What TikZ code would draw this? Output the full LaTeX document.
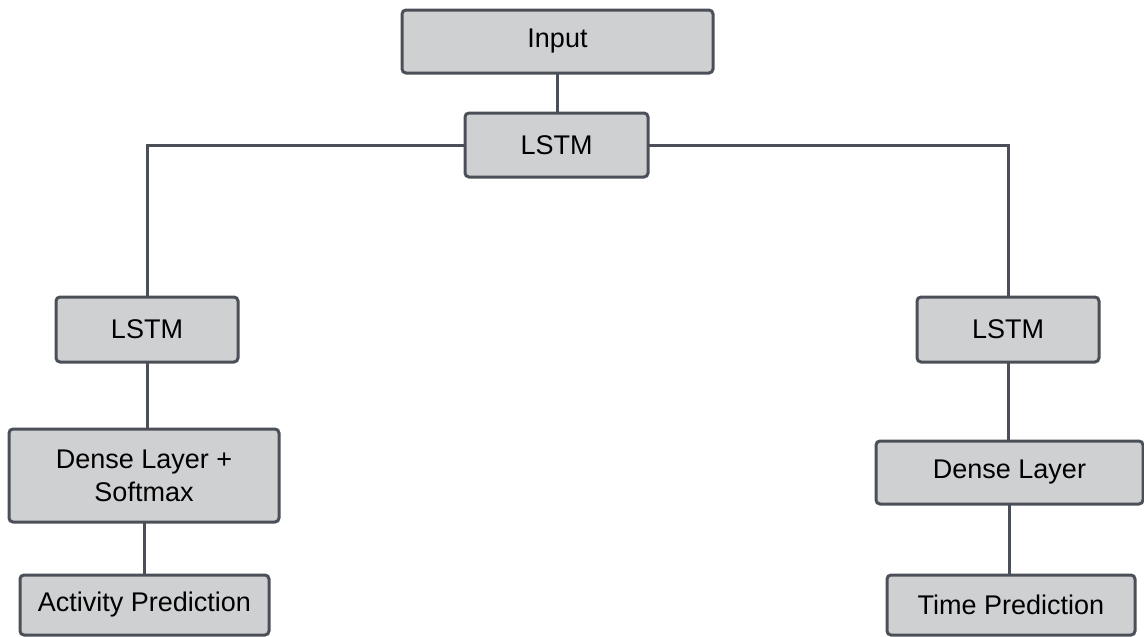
\documentclass[tikz,border=0pt]{standalone}
\usepackage{fontspec}
\setmainfont{Liberation Sans}
\definecolor{boxfill}{HTML}{CFD0D2}
\definecolor{boxline}{HTML}{4B5058}
\begin{document}
\begin{tikzpicture}[x=1pt,y=-1pt,
  layer/.style={draw=boxline, fill=boxfill, line width=3pt, rounded corners=4pt,
    inner sep=0pt, outer sep=0pt, align=center, text=black,
    font=\fontsize{27}{33}\selectfont},
  link/.style={draw=boxline, line width=3pt}]
\useasboundingbox (0,0) rectangle (1144,637);

% nodes
\node[layer, minimum width=311pt, minimum height=63pt] (input) at (557.5,41.5) {Input};
\node[layer, minimum width=183pt, minimum height=64pt] (lstm) at (556.5,145) {LSTM};
\node[layer, minimum width=182pt, minimum height=65pt] (lstmL) at (147,329.5) {LSTM};
\node[layer, minimum width=270pt, minimum height=93pt] (denseL) at (144,475.5) {Dense Layer +\\Softmax};
\node[layer, minimum width=249pt, minimum height=60pt] (act) at (144.5,605) {Activity Prediction};
\node[layer, minimum width=182pt, minimum height=65pt] (lstmR) at (1008,329.5) {LSTM};
\node[layer, minimum width=267pt, minimum height=63pt] (denseR) at (1009.5,472.5) {Dense Layer};
\node[layer, minimum width=248pt, minimum height=60pt] (time) at (1011,605) {Time Prediction};

% connectors
\draw[link] (input.south) -- (input.south |- lstm.north);
\draw[link] (lstm.west) -| (lstmL.north);
\draw[link] (lstm.east) -| (lstmR.north);
\draw[link] (lstmL.south) -- (lstmL.south |- denseL.north);
\draw[link] (denseL.south) -- (denseL.south |- act.north);
\draw[link] (lstmR.south) -- (lstmR.south |- denseR.north);
\draw[link] (denseR.south) -- (denseR.south |- time.north);
\end{tikzpicture}
\end{document}
